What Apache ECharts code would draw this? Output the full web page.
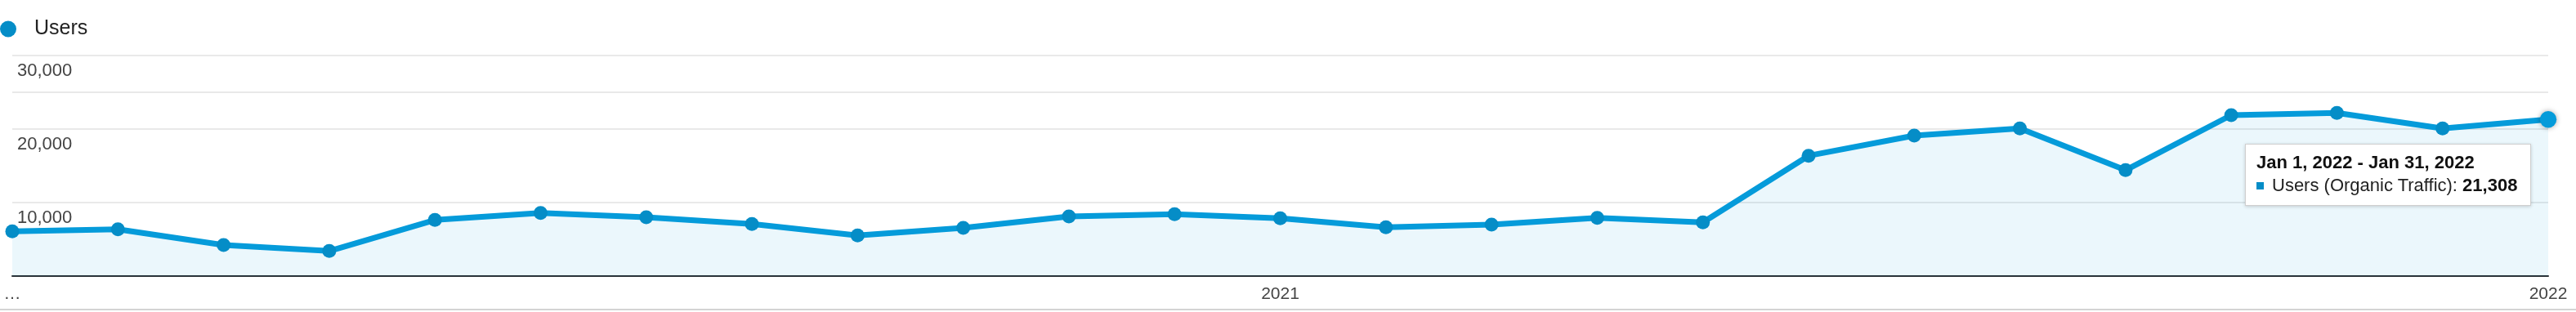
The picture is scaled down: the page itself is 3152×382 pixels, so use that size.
<!DOCTYPE html>
<html>
<head>
<meta charset="utf-8">
<script src="https://cdn.jsdelivr.net/npm/echarts@6/dist/echarts.min.js"></script>
<style>
  html, body { margin: 0; padding: 0; background: #fff; }
  #chart { width: 3152px; height: 382px; }
</style>
</head>
<body>
<div id="chart"></div>
<script>
// ---- data ----
const periods = [
  'Jan 1, 2020 - Jan 31, 2020', 'Feb 1, 2020 - Feb 29, 2020', 'Mar 1, 2020 - Mar 31, 2020',
  'Apr 1, 2020 - Apr 30, 2020', 'May 1, 2020 - May 31, 2020', 'Jun 1, 2020 - Jun 30, 2020',
  'Jul 1, 2020 - Jul 31, 2020', 'Aug 1, 2020 - Aug 31, 2020', 'Sep 1, 2020 - Sep 30, 2020',
  'Oct 1, 2020 - Oct 31, 2020', 'Nov 1, 2020 - Nov 30, 2020', 'Dec 1, 2020 - Dec 31, 2020',
  'Jan 1, 2021 - Jan 31, 2021', 'Feb 1, 2021 - Feb 28, 2021', 'Mar 1, 2021 - Mar 31, 2021',
  'Apr 1, 2021 - Apr 30, 2021', 'May 1, 2021 - May 31, 2021', 'Jun 1, 2021 - Jun 30, 2021',
  'Jul 1, 2021 - Jul 31, 2021', 'Aug 1, 2021 - Aug 31, 2021', 'Sep 1, 2021 - Sep 30, 2021',
  'Oct 1, 2021 - Oct 31, 2021', 'Nov 1, 2021 - Nov 30, 2021', 'Dec 1, 2021 - Dec 31, 2021',
  'Jan 1, 2022 - Jan 31, 2022'
];
const users = [
  6080, 6370, 4220, 3410, 7630, 8590, 8000, 7080, 5520, 6560, 8110, 8410,
  7860, 6630, 7000, 7920, 7300, 16370, 19110, 20080, 14410, 21890, 22190, 20080,
  21308
];
const xTickLabels = [
  '…', '', '', '', '', '', '', '', '', '', '', '',
  '2021', '', '', '', '', '', '', '', '', '', '', '',
  '2022'
];
const yTickLabels = { 10000: '10,000', 20000: '20,000', 30000: '30,000' };
const extraGridLines = [25000];
const seriesName = 'Users';
const tooltipMetric = 'Users (Organic Traffic)';
const highlightedIndex = 24;

// ---- chart ----
const FONT = 'Arial, "Liberation Sans", Helvetica, sans-serif';
const BLUE = '#058dc7';
const chart = echarts.init(document.getElementById('chart'));

chart.setOption({
  animation: false,
  backgroundColor: '#fff',
  textStyle: { fontFamily: FONT },
  legend: {
    left: 0, top: 23, padding: 0,
    icon: 'circle', itemWidth: 20, itemHeight: 20,
    data: [seriesName],
    selectedMode: false,
    textStyle: { fontSize: 25, color: '#222', fontFamily: FONT, padding: [0, 0, 0, 17] }
  },
  grid: { left: 15, right: 34, top: 68, bottom: 44 },
  tooltip: {
    trigger: 'item',
    alwaysShowContent: true,
    transitionDuration: 0,
    backgroundColor: '#fff',
    borderColor: '#cfcfcf',
    borderWidth: 1,
    padding: [8, 16, 10, 13],
    extraCssText: 'box-shadow: 0 1px 4px rgba(0,0,0,0.18); border-radius: 0; line-height: 28px; font-size: 22px;',
    textStyle: { fontFamily: FONT, fontSize: 22, color: '#222' },
    position: function (point, params, dom, rect, size) {
      return [point[0] - size.contentSize[0] - 21, point[1] + 30];
    },
    formatter: function (p) {
      const v = p.value.toLocaleString('en-US');
      return '<div style="font-family:' + FONT.replace(/"/g, "'") + ';font-size:22px;line-height:28px;font-weight:bold;color:#111">' + periods[p.dataIndex] + '</div>' +
        '<div style="font-family:' + FONT.replace(/"/g, "'") + ';font-size:22px;line-height:28px;color:#222"><span style="display:inline-block;width:9px;height:9px;background:' + BLUE +
        ';margin-right:10px;vertical-align:2px"></span>' + tooltipMetric + ': <b style="color:#111">' + v + '</b></div>';
    }
  },
  xAxis: {
    type: 'category',
    data: periods,
    boundaryGap: false,
    axisLine: { lineStyle: { color: '#2b2f33', width: 2 } },
    axisTick: { show: false },
    axisLabel: {
      interval: 0,
      margin: 12,
      fontSize: 21,
      color: '#444',
      fontFamily: FONT,
      formatter: function (val, idx) { return xTickLabels[idx]; }
    },
    splitLine: { show: false }
  },
  yAxis: {
    type: 'value',
    min: 0, max: 30000, interval: 10000,
    axisLine: { show: false },
    axisTick: { show: false },
    axisLabel: {
      inside: true,
      margin: 6,
      verticalAlign: 'top',
      padding: [8, 0, 0, 0],
      fontSize: 22,
      color: '#444',
      fontFamily: FONT,
      formatter: function (v) { return yTickLabels[v] || ''; }
    },
    splitLine: { lineStyle: { color: '#e9e9e9', width: 2 } }
  },
  series: [{
    name: seriesName,
    type: 'line',
    data: users,
    symbol: 'circle',
    symbolSize: 17,
    showAllSymbol: true,
    color: BLUE,
    lineStyle: { color: BLUE, width: 7 },
    itemStyle: { color: BLUE },
    areaStyle: { color: 'rgba(5,141,199,0.11)', origin: 'start' },
    emphasis: {
      scale: 1.2,
      lineStyle: { width: 7 },
      itemStyle: { shadowBlur: 6, shadowColor: 'rgba(0,0,0,0.35)' }
    },
    markLine: {
      silent: true,
      symbol: 'none',
      label: { show: false },
      lineStyle: { color: '#e9e9e9', width: 2, type: 'solid' },
      data: extraGridLines.map(function (v) { return { yAxis: v }; }),
      z: 1
    },
    z: 3
  }],
  graphic: [{
    type: 'rect',
    left: 0, top: 378,
    shape: { width: 3152, height: 2 },
    style: { fill: '#d4d4d4' },
    silent: true
  }]
});

chart.dispatchAction({ type: 'highlight', seriesIndex: 0, dataIndex: highlightedIndex });
chart.dispatchAction({ type: 'showTip', seriesIndex: 0, dataIndex: highlightedIndex });
</script>
</body>
</html>
